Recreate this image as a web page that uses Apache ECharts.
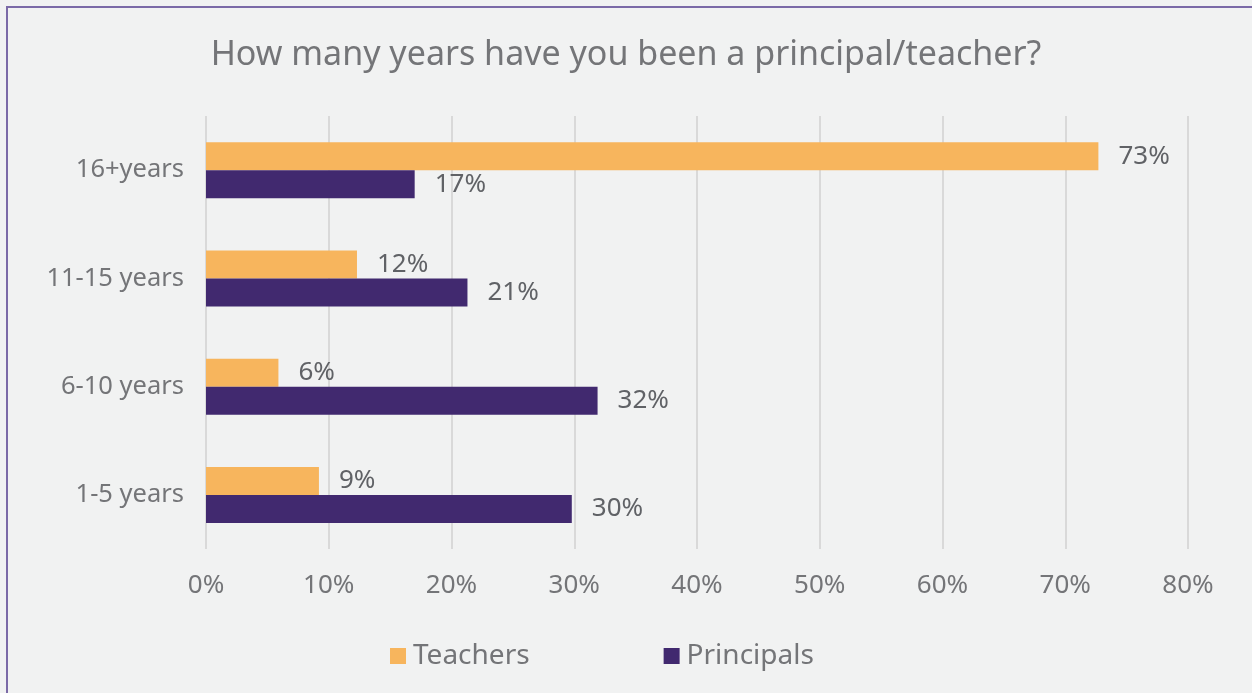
<!DOCTYPE html>
<html>
<head>
<meta charset="utf-8">
<script src="https://cdn.jsdelivr.net/npm/echarts@6/dist/echarts.min.js"></script>
<style>
  html, body { margin: 0; padding: 0; background: #f1f2f2; }
  #chart { width: 1252px; height: 693px; }
</style>
</head>
<body>
<div id="chart"></div>
<script>
// Years of experience, top to bottom
const categories = ['16+years', '11-15 years', '6-10 years', '1-5 years'];
// Share of respondents (%)
const teachers = [72.7, 12.3, 5.9, 9.2];
const principals = [17.0, 21.3, 31.9, 29.8];
const xTicks = [0, 10, 20, 30, 40, 50, 60, 70, 80];

const textColor = '#747578';
const fontFamily = '"Noto Sans", "Open Sans", sans-serif';

const chart = echarts.init(document.getElementById('chart'), null, { renderer: 'canvas' });

const labelStyle = {
  show: true,
  position: 'right',
  distance: 20,
  color: '#606266',
  fontSize: 26,
  fontFamily: fontFamily,
  formatter: p => Math.round(p.value) + '%'
};

chart.setOption({
  backgroundColor: '#f1f2f2',
  animation: false,
  title: {
    text: 'How many years have you been a principal/teacher?',
    left: 'center',
    top: 33,
    textStyle: { color: textColor, fontSize: 34, fontWeight: 'normal', fontFamily: fontFamily }
  },
  legend: {
    bottom: 23,
    left: 390,
    padding: 0,
    itemWidth: 16,
    itemHeight: 16,
    itemGap: 134,
    icon: 'rect',
    textStyle: { color: textColor, fontSize: 28, fontFamily: fontFamily, padding: [0, 0, 0, 2] },
    data: ['Teachers', 'Principals']
  },
  grid: { left: 206, right: 64, top: 116, bottom: 144, containLabel: false },
  xAxis: {
    type: 'value',
    min: xTicks[0],
    max: xTicks[xTicks.length - 1],
    interval: 10,
    axisLine: { show: false },
    axisTick: { show: false },
    axisLabel: { color: textColor, fontSize: 26, fontFamily: fontFamily, margin: 24, formatter: v => v + '%' },
    splitLine: { show: true, lineStyle: { color: '#d9d9d9', width: 2 } }
  },
  yAxis: {
    type: 'category',
    inverse: true,
    data: categories,
    axisLine: { show: false },
    axisTick: { show: false },
    axisLabel: { color: textColor, fontSize: 25.5, fontFamily: fontFamily, margin: 22 }
  },
  series: [
    {
      name: 'Teachers',
      type: 'bar',
      data: teachers,
      barWidth: 28,
      barGap: '0%',
      itemStyle: { color: '#f7b55d' },
      label: labelStyle
    },
    {
      name: 'Principals',
      type: 'bar',
      data: principals,
      barWidth: 28,
      barGap: '0%',
      itemStyle: { color: '#41296f' },
      label: labelStyle
    }
  ],
  graphic: [
    {
      type: 'rect',
      silent: true,
      shape: { x: 7, y: 7, width: 1400, height: 900 },
      style: { fill: null, stroke: '#7b6aa7', lineWidth: 2 }
    }
  ]
});
</script>
</body>
</html>
